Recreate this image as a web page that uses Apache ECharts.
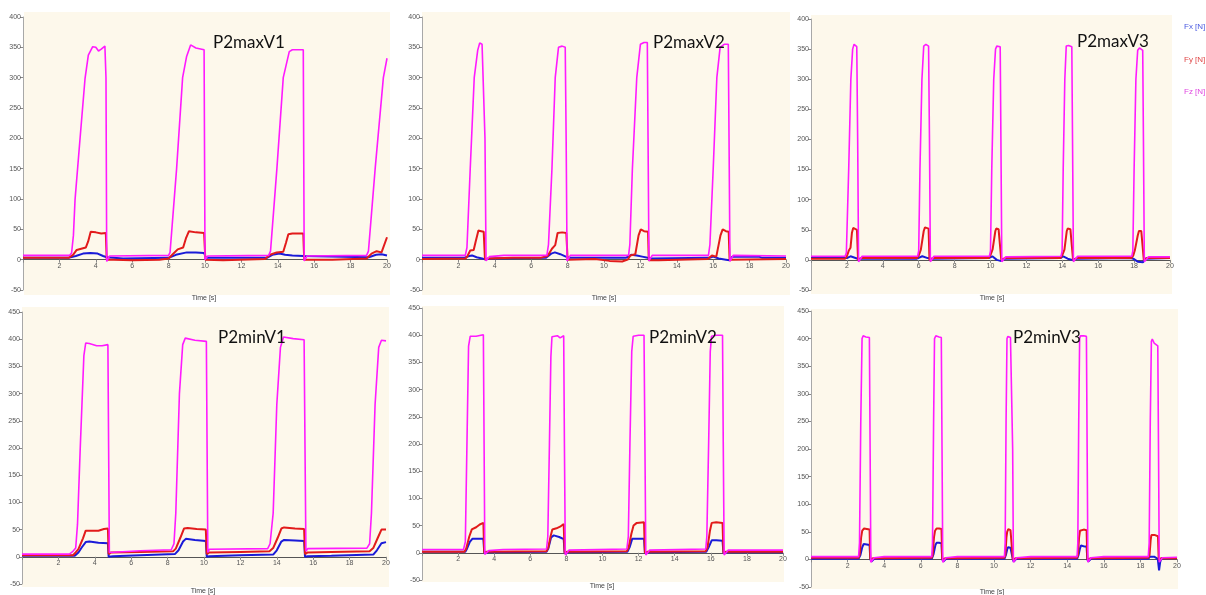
<!DOCTYPE html>
<html>
<head>
<meta charset="utf-8">
<script src="https://cdn.jsdelivr.net/npm/echarts@6/dist/echarts.min.js"></script>
<style>
html,body{margin:0;padding:0;background:#ffffff;}
#chart{width:1206px;height:595px;}
</style>
</head>
<body>
<div id="chart"></div>
<script>
// ---------------- DATA (time [s], force [N]) ----------------
const panelNames = ['P2maxV1', 'P2maxV2', 'P2maxV3', 'P2minV1', 'P2minV2', 'P2minV3'];
const seriesNames = ['Fx [N]', 'Fy [N]', 'Fz [N]'];
const xTicks = [0, 20, 2];           // min, max, step
const yTicksTop = [-50, 400, 50];
const yTicksBottom = [-50, 450, 50];
const xAxisTitle = 'Time [s]';

// P2maxV1
const fx_P2maxV1 = [[0,3],[2.5,3],[2.9,6],[3.3,10],[3.7,11],[4.1,10],[4.4,6],[4.6,4],[4.7,1],[5.5,2],[8.0,3],[8.4,8],[9.0,12],[9.5,12],[9.95,11],[10.05,3],[13.4,3],[13.7,8],[14.1,10],[14.4,8],[14.8,7],[15.4,6],[15.5,3],[19.0,4],[19.4,8],[19.7,9],[20,7]];
const fy_P2maxV1 = [[0,3],[2.5,3],[2.75,8],[2.95,16],[3.2,18],[3.45,20],[3.58,30],[3.72,46],[4.0,45],[4.3,43],[4.55,44],[4.6,0],[5,0],[6,-1],[7.5,0],[8.0,2],[8.2,8],[8.5,17],[8.8,20],[8.95,35],[9.12,47],[9.5,45],[9.95,44],[10.02,0],[11,-1],[13.3,1],[13.57,8],[13.94,12],[14.3,13],[14.45,28],[14.58,42],[14.8,43],[15.4,43],[15.45,0],[17,0],[18.88,2],[19.15,10],[19.43,14],[19.7,12],[20,37]];
const fz_P2maxV1 = [[0,7],[2.55,7],[2.67,11],[2.77,40],[2.86,99],[3.13,198],[3.41,299],[3.59,337],[3.83,351],[4.0,350],[4.15,344],[4.3,347],[4.5,352],[4.56,300],[4.6,-3],[4.68,-3],[4.75,6],[8.0,7],[8.08,12],[8.44,150],[8.77,300],[8.99,335],[9.21,354],[9.5,349],[9.95,346],[10.0,0],[10.08,0],[10.15,6],[13.5,7],[13.6,14],[13.95,150],[14.3,300],[14.63,343],[14.8,346],[15.4,346],[15.45,-2],[15.55,-2],[15.6,6],[18.88,7],[18.98,14],[19.35,150],[19.8,300],[20,332]];

// P2maxV2
const fx_P2maxV2 = [[0,3],[2.3,3],[2.6,6],[2.75,7],[3.0,4],[3.3,2],[3.5,0],[3.7,2],[6.8,3],[7.1,10],[7.3,12],[7.6,9],[7.9,5],[8.1,3],[11.2,3],[11.5,8],[11.8,7],[12.1,5],[12.4,3],[12.6,2],[15.8,3],[16.0,5],[16.3,2],[16.7,0],[16.9,-1],[17.05,5],[18.5,5],[18.7,3],[20,3]];
const fy_P2maxV2 = [[0,1],[2.4,2],[2.5,6],[2.65,15],[2.84,16],[2.95,30],[3.1,48],[3.25,47],[3.39,46],[3.46,0],[3.6,2],[5,3],[6.5,3],[6.9,6],[7.14,18],[7.32,24],[7.45,44],[7.7,45],[7.93,44],[8.0,0],[9.5,1],[10.3,-2],[11.0,-3],[11.3,0],[11.45,7],[11.72,9],[11.9,40],[12.02,50],[12.2,47],[12.42,46],[12.46,-1],[13,-1],[15.7,1],[15.93,7],[16.17,5],[16.4,40],[16.52,50],[16.7,47],[16.85,46],[16.9,0],[20,1]];
const fz_P2maxV2 = [[0,7],[2.38,7],[2.47,20],[2.65,150],[2.87,300],[3.06,345],[3.17,357],[3.3,355],[3.4,353],[3.46,200],[3.52,-2],[3.6,-2],[3.7,5],[4.5,7],[6.86,7],[6.95,25],[7.14,150],[7.32,300],[7.5,350],[7.7,352],[7.87,350],[7.92,200],[7.97,-2],[8.05,-2],[8.15,7],[11.35,7],[11.42,25],[11.56,150],[11.8,300],[12.0,355],[12.2,358],[12.38,358],[12.42,200],[12.47,-2],[12.55,-2],[12.65,7],[15.74,7],[15.82,25],[16.0,150],[16.2,300],[16.38,350],[16.6,355],[16.83,355],[16.87,200],[16.92,-3],[17.0,-3],[17.1,7],[20,6]];

// P2maxV3
const fx_P2maxV3 = [[0,4],[1.5,3],[2.0,3],[2.2,6],[2.4,4],[2.6,2],[2.8,2],[5.9,2],[6.2,6],[6.5,3],[6.7,2],[9.9,3],[10.1,6],[10.35,0],[10.6,-2],[10.8,2],[13.9,3],[14.05,6],[14.3,2],[14.55,0],[14.8,2],[17.8,3],[17.95,2],[18.2,-3],[18.5,-4],[18.6,2],[20,3]];
const fy_P2maxV3 = [[0,2],[1.9,2],[2.0,6],[2.1,15],[2.2,20],[2.28,45],[2.35,53],[2.45,52],[2.56,50],[2.62,0],[2.8,3],[5.9,3],[6.0,7],[6.12,17],[6.2,20],[6.28,48],[6.35,54],[6.45,53],[6.55,52],[6.6,0],[6.8,3],[9.9,3],[10.0,8],[10.12,18],[10.2,20],[10.27,48],[10.32,52],[10.45,51],[10.54,50],[10.6,0],[10.8,3],[13.9,3],[14.0,8],[14.12,17],[14.18,20],[14.25,48],[14.3,52],[14.45,51],[14.54,50],[14.6,0],[14.8,3],[17.85,3],[17.95,7],[18.05,17],[18.12,18],[18.2,40],[18.27,48],[18.4,48],[18.48,47],[18.54,0],[18.7,3],[20,3]];
const fz_P2maxV3 = [[0,6],[1.9,6],[1.97,12],[2.1,150],[2.22,300],[2.32,350],[2.4,358],[2.55,354],[2.6,200],[2.65,-3],[2.72,-3],[2.85,6],[5.94,6],[6.0,15],[6.07,150],[6.18,300],[6.28,355],[6.4,358],[6.55,355],[6.6,200],[6.65,-3],[6.72,-3],[6.85,6],[9.94,6],[10.0,15],[10.07,150],[10.18,300],[10.28,350],[10.35,355],[10.54,354],[10.58,200],[10.63,-3],[10.72,-3],[10.85,5],[13.93,6],[13.99,15],[14.05,150],[14.14,300],[14.22,355],[14.35,356],[14.53,354],[14.57,200],[14.62,-3],[14.7,-3],[14.85,6],[17.87,6],[17.93,15],[18.0,150],[18.1,300],[18.2,348],[18.3,352],[18.48,348],[18.52,200],[18.57,-3],[18.65,-3],[18.8,5],[20,5]];

// P2minV1
const fx_P2minV1 = [[0,2],[2.9,2],[3.1,8],[3.3,18],[3.5,27],[3.7,28],[4.2,26],[4.72,25],[4.76,0],[5.0,1],[6.5,3],[8.4,5],[8.6,12],[8.85,28],[9.0,33],[9.5,31],[10.1,29],[10.15,0],[10.3,1],[12,3],[13.8,4],[14.0,12],[14.25,28],[14.4,31],[15,30],[15.5,29],[15.55,0],[15.7,1],[17,2],[19.3,4],[19.5,12],[19.75,25],[20,27]];
const fy_P2minV1 = [[0,3],[2.8,3],[2.95,8],[3.1,14],[3.35,34],[3.5,48],[3.7,48],[4.2,48],[4.5,51],[4.72,52],[4.76,5],[4.9,8],[6.5,9],[8.3,10],[8.45,15],[8.7,35],[8.9,52],[9.1,53],[9.6,51],[10.1,50],[10.15,5],[10.3,8],[12,9],[13.6,10],[13.8,16],[14.05,35],[14.25,52],[14.4,54],[15,52],[15.5,51],[15.55,5],[15.7,8],[17,9],[19.1,10],[19.3,16],[19.55,35],[19.75,50],[19.85,52],[20,50]];
const fz_P2minV1 = [[0,5],[2.6,5],[2.8,10],[2.95,16],[3.05,60],[3.2,200],[3.4,370],[3.5,393],[3.7,392],[4.1,388],[4.4,388],[4.72,390],[4.76,200],[4.8,8],[4.9,10],[6.5,11],[8.2,13],[8.35,24],[8.45,80],[8.65,300],[8.83,390],[8.97,402],[9.5,398],[10.13,396],[10.17,200],[10.21,8],[10.3,14],[13.5,15],[13.63,24],[13.8,80],[14.0,280],[14.2,385],[14.37,404],[14.9,401],[15.5,399],[15.55,200],[15.6,10],[15.7,15],[18.95,16],[19.1,24],[19.2,80],[19.4,280],[19.6,385],[19.75,398],[20,397]];

// P2minV2
const fx_P2minV2 = [[0,2],[2.4,2],[2.5,8],[2.65,20],[2.8,26],[3.1,26],[3.4,26],[3.45,0],[3.55,-3],[3.7,1],[6.9,2],[7.0,8],[7.15,28],[7.3,32],[7.6,29],[7.85,25],[7.9,0],[8.0,-2],[8.15,1],[11.38,2],[11.5,10],[11.65,26],[11.9,26],[12.3,26],[12.35,0],[12.45,-3],[12.6,1],[15.75,2],[15.88,10],[16.05,23],[16.3,23],[16.65,22],[16.7,0],[16.8,-3],[16.95,1],[20,1]];
const fy_P2minV2 = [[0,2],[2.35,2],[2.45,8],[2.62,30],[2.76,43],[3.0,47],[3.2,52],[3.4,55],[3.45,0],[3.6,2],[6.9,3],[7.0,10],[7.12,30],[7.22,43],[7.45,45],[7.65,48],[7.85,53],[7.9,0],[8.05,2],[11.35,3],[11.45,10],[11.6,35],[11.72,50],[11.9,55],[12.3,56],[12.35,0],[12.5,2],[15.72,3],[15.82,10],[15.95,40],[16.05,55],[16.3,56],[16.65,55],[16.7,0],[16.85,2],[20,2]];
const fz_P2minV2 = [[0,6],[2.3,6],[2.4,20],[2.49,200],[2.58,380],[2.67,398],[3.0,398],[3.4,401],[3.44,200],[3.48,-3],[3.56,-3],[3.7,4],[4.5,6],[6.9,7],[6.97,30],[7.06,200],[7.14,360],[7.2,397],[7.5,399],[7.65,395],[7.85,399],[7.89,200],[7.94,-4],[8.02,-4],[8.15,5],[11.35,7],[11.43,30],[11.52,200],[11.62,370],[11.7,398],[12.0,400],[12.3,400],[12.35,200],[12.4,-4],[12.5,-4],[12.62,5],[15.72,7],[15.78,30],[15.88,200],[15.97,370],[16.04,398],[16.3,400],[16.65,400],[16.69,200],[16.74,-4],[16.84,-4],[16.97,5],[20,5]];

// P2minV3
const fx_P2minV3 = [[0,1],[2.6,1],[2.7,8],[2.8,22],[2.88,28],[3.05,27],[3.2,26],[3.24,0],[3.3,-4],[3.45,1],[6.6,1],[6.7,10],[6.8,26],[6.86,30],[7.0,30],[7.13,29],[7.17,0],[7.23,-4],[7.38,1],[10.57,1],[10.65,8],[10.72,18],[10.76,22],[10.9,21],[10.99,20],[11.03,0],[11.08,-4],[11.22,1],[14.54,1],[14.62,8],[14.7,20],[14.75,25],[14.9,24],[15.06,23],[15.1,0],[15.15,-4],[15.3,1],[18.43,1],[18.52,5],[18.6,8],[18.75,5],[18.95,1],[19.02,-20],[19.08,-5],[19.15,2],[20,2]];
const fy_P2minV3 = [[0,3],[2.6,3],[2.66,8],[2.74,40],[2.8,52],[2.9,56],[3.05,55],[3.2,54],[3.24,0],[3.4,2],[6.6,3],[6.65,8],[6.72,40],[6.78,52],[6.86,56],[7.0,56],[7.13,55],[7.17,0],[7.35,2],[10.57,3],[10.62,8],[10.68,40],[10.72,50],[10.78,55],[10.9,53],[10.99,52],[11.03,0],[11.2,2],[14.54,3],[14.59,8],[14.65,40],[14.7,52],[14.75,55],[14.9,54],[15.06,53],[15.1,0],[15.3,2],[18.43,3],[18.5,8],[18.56,35],[18.6,44],[18.65,47],[18.8,44],[18.96,42],[19.0,0],[19.15,2],[20,2]];
const fz_P2minV3 = [[0,5],[2.6,5],[2.65,30],[2.72,250],[2.79,400],[2.85,405],[3.0,403],[3.19,402],[3.23,200],[3.27,-5],[3.35,-5],[3.45,3],[4.0,5],[6.6,5],[6.64,30],[6.7,250],[6.75,400],[6.82,405],[7.0,403],[7.12,402],[7.16,200],[7.2,-5],[7.28,-5],[7.38,3],[8,5],[10.57,5],[10.61,30],[10.66,250],[10.71,400],[10.76,404],[10.9,402],[10.98,400],[11.02,200],[11.06,-5],[11.14,-5],[11.24,3],[12,5],[14.54,5],[14.58,30],[14.63,250],[14.68,400],[14.73,405],[14.9,405],[15.05,404],[15.09,200],[15.13,-5],[15.2,-5],[15.3,3],[16,5],[18.43,5],[18.48,30],[18.54,250],[18.6,395],[18.65,399],[18.75,392],[18.95,387],[18.99,200],[19.03,-5],[19.1,-5],[19.2,3],[20,4]];

// ---------------- LAYOUT / STYLE ----------------
const panelData = [
  [fx_P2maxV1, fy_P2maxV1, fz_P2maxV1],
  [fx_P2maxV2, fy_P2maxV2, fz_P2maxV2],
  [fx_P2maxV3, fy_P2maxV3, fz_P2maxV3],
  [fx_P2minV1, fy_P2minV1, fz_P2minV1],
  [fx_P2minV2, fy_P2minV2, fz_P2minV2],
  [fx_P2minV3, fy_P2minV3, fz_P2minV3]
];
// grid boxes (left, top, width, height), background boxes, title pos, axis-title pos
const layout = [
  {g:[23,17,364,273],  bg:[24,12,366,283],  t:[213,43],  a:[204,298]},
  {g:[422,17,364,273], bg:[422,12,368,283], t:[653,43],  a:[604,298]},
  {g:[811,19,359,271], bg:[811,15,361,279], t:[1077,42], a:[992,298]},
  {g:[22,312,364,272], bg:[22,307,367,280], t:[218,338], a:[203,591]},
  {g:[422,308,361,272],bg:[422,306,362,276],t:[649,338], a:[602,586]},
  {g:[811,311,366,276],bg:[811,309,367,280],t:[1013,338],a:[992,592]}
];
const colors = ['#1a1ad8', '#e21b1b', '#ff1aff'];
const widths = [2, 2, 1.6];
const legendColors = ['#4a5ae0', '#e04848', '#e048e0'];
const bgColor = '#fdf8eb';

const chart = echarts.init(document.getElementById('chart'), null, {renderer: 'canvas'});

const grids = [], xAxes = [], yAxes = [], series = [], graphics = [];
layout.forEach((L, i) => {
  const yt = i < 3 ? yTicksTop : yTicksBottom;
  // x axis sits on the zero line of the y scale
  const zeroOffset = -(0 - yt[0]) / (yt[1] - yt[0]) * L.g[3];
  grids.push({left: L.g[0], top: L.g[1], width: L.g[2], height: L.g[3], containLabel: false});
  xAxes.push({
    type: 'value', gridIndex: i, min: xTicks[0], max: xTicks[1], interval: xTicks[2],
    position: 'bottom', offset: zeroOffset,
    axisLine: {onZero: false, lineStyle: {color: '#555', width: 1}},
    axisTick: {show: true, length: 3, lineStyle: {color: '#888'}},
    axisLabel: {fontSize: 7, color: '#555', margin: 3, fontFamily: 'Liberation Sans',
      formatter: v => (v === 0 ? '' : String(v))},
    splitLine: {show: false}
  });
  yAxes.push({
    type: 'value', gridIndex: i, min: yt[0], max: yt[1], interval: yt[2],
    axisLine: {show: true, onZero: false, lineStyle: {color: '#a8a8a8', width: 1}},
    axisTick: {show: true, length: 3, lineStyle: {color: '#888'}},
    axisLabel: {fontSize: 7, color: '#555', margin: 2, fontFamily: 'Liberation Sans'},
    splitLine: {show: false}
  });
  panelData[i].forEach((d, k) => {
    series.push({
      name: seriesNames[k], type: 'line', xAxisIndex: i, yAxisIndex: i, data: d,
      showSymbol: false, symbol: 'none', animation: false, z: 2 + k,
      lineStyle: {color: colors[k], width: widths[k]},
      itemStyle: {color: colors[k]}
    });
  });
  graphics.push({type: 'rect', z: -10, silent: true,
    shape: {x: L.bg[0], y: L.bg[1], width: L.bg[2], height: L.bg[3]},
    style: {fill: bgColor}});
  graphics.push({type: 'text', z: 10, x: L.t[0], y: L.t[1],
    style: {text: panelNames[i], fill: '#111', font: '17px Lato', textVerticalAlign: 'middle', verticalAlign: 'middle'}});
  graphics.push({type: 'text', z: 10, x: L.a[0], y: L.a[1],
    style: {text: xAxisTitle, fill: '#444', font: '7px "Liberation Sans"', textAlign: 'center', align: 'center', textVerticalAlign: 'middle', verticalAlign: 'middle'}});
});
seriesNames.forEach((n, k) => {
  graphics.push({type: 'text', z: 10, x: 1184, y: 27 + k * 32.5,
    style: {text: n, fill: legendColors[k], font: '8px "Liberation Sans"', textVerticalAlign: 'middle', verticalAlign: 'middle'}});
});

chart.setOption({
  backgroundColor: '#ffffff',
  animation: false,
  grid: grids,
  xAxis: xAxes,
  yAxis: yAxes,
  series: series,
  graphic: {elements: graphics}
});
</script>
</body>
</html>
